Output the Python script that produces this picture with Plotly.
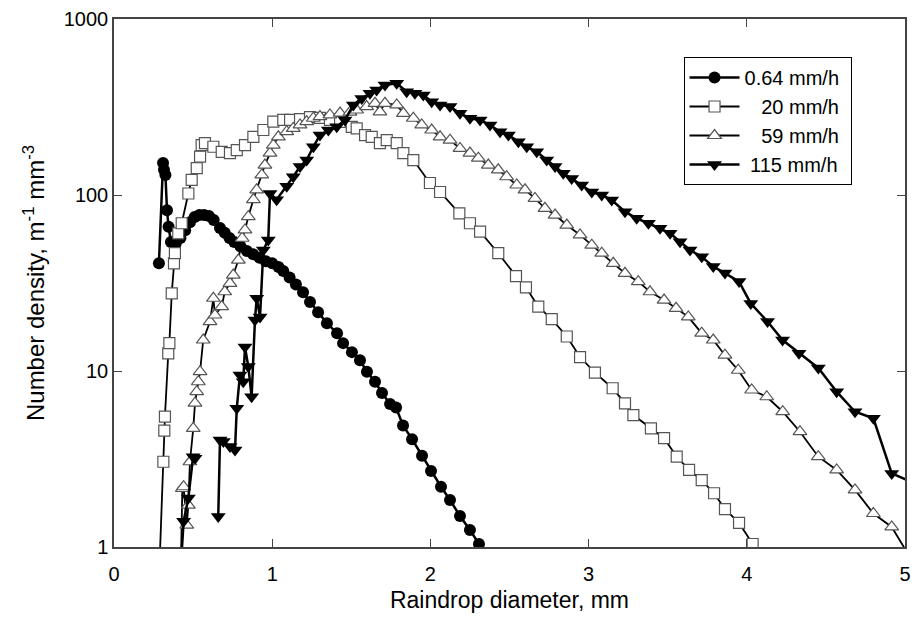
import plotly.graph_objects as go

# ---- data ----
d064 = [0.284, 0.310, 0.316, 0.325, 0.335, 0.345, 0.36, 0.39, 0.42, 0.45, 0.48, 0.51, 0.54, 0.57,
        0.60, 0.63, 0.67, 0.70, 0.73, 0.76, 0.80, 0.84, 0.88, 0.92, 0.96, 1.00, 1.04, 1.07, 1.11,
        1.15, 1.195, 1.239, 1.290, 1.346, 1.410, 1.448, 1.504, 1.555, 1.599, 1.650, 1.694, 1.745,
        1.783, 1.827, 1.884, 1.947, 2.004, 2.067, 2.124, 2.187, 2.250, 2.307]
n064 = [41, 152, 139, 130, 82, 66, 54, 53, 57, 63, 70, 75, 77, 77,
        76, 72, 65, 61, 57, 54, 51, 48, 46, 44, 42, 41, 39, 37, 34,
        31, 28, 24.7, 21.6, 18.7, 16.4, 14.4, 12.8, 11.5, 9.9, 8.7, 7.5, 6.5,
        6.2, 4.9, 4.1, 3.3, 2.7, 2.2, 1.85, 1.5, 1.25, 1.04]

d20 = [0.29, 0.312, 0.318, 0.322, 0.343, 0.350, 0.365, 0.379, 0.385, 0.406, 0.428, 0.470, 0.491,
       0.523, 0.544, 0.554, 0.575, 0.628, 0.681, 0.733, 0.776, 0.828, 0.881, 0.944, 1.007, 1.070,
       1.113, 1.176, 1.239, 1.302, 1.365, 1.429, 1.503, 1.534, 1.587, 1.629, 1.681, 1.724, 1.787,
       1.829, 1.892, 1.997, 2.061, 2.183, 2.250, 2.314, 2.429, 2.541, 2.604, 2.682, 2.767, 2.862,
       2.946, 3.040, 3.152, 3.230, 3.283, 3.394, 3.477, 3.557, 3.635, 3.715, 3.793, 3.862, 3.951,
       4.037, 4.13]
n20 = [0.9, 3.05, 4.58, 5.5, 12.6, 14.4, 27.6, 40.9, 46.7, 60.6, 69.1, 102, 122,
       142, 165, 192, 197, 188, 176, 173, 180, 192, 214, 234, 261, 267,
       267, 270, 277, 274, 267, 260, 244, 239, 219, 214, 197, 205, 197,
       173, 158, 117, 104, 78.7, 69.1, 61.9, 46.7, 34.6, 29.9, 23.2, 19.7, 15.7,
       12.0, 9.78, 7.98, 6.55, 5.62, 4.72, 4.15, 3.26, 2.74, 2.40, 2.02, 1.64, 1.37,
       1.04, 0.9]

d59 = [0.424, 0.432, 0.44, 0.46, 0.47, 0.48, 0.501, 0.512, 0.523, 0.533, 0.544, 0.564, 0.607,
       0.628, 0.638, 0.681, 0.70, 0.733, 0.754, 0.786, 0.81, 0.828, 0.849, 0.881, 0.902, 0.934,
       0.954, 0.986, 1.007, 1.039, 1.092, 1.133, 1.176, 1.218, 1.260, 1.302, 1.365, 1.429, 1.492,
       1.534, 1.597, 1.650, 1.681, 1.713, 1.787, 1.829, 1.892, 1.945, 2.008, 2.061, 2.124, 2.187,
       2.250, 2.303, 2.366, 2.429, 2.482, 2.546, 2.598, 2.661, 2.724, 2.788, 2.862, 2.946, 3.020,
       3.083, 3.156, 3.230, 3.314, 3.388, 3.477, 3.553, 3.630, 3.715, 3.788, 3.862, 3.946, 4.031,
       4.126, 4.227, 4.336, 4.452, 4.568, 4.684, 4.800, 4.916, 5.04]
n59 = [0.9, 2.15, 2.2, 1.33, 1.73, 3.05, 4.72, 6.56, 7.63, 8.69, 9.91, 15.0, 19.1,
       25.9, 20.8, 23.2, 28.2, 31.5, 35.1, 42.7, 56.8, 63.3, 75.3, 94.2, 107, 130,
       148, 173, 192, 214, 229, 239, 250, 261, 273, 279, 285, 292, 296,
       304, 318, 332, 297, 332, 325, 291, 273, 250, 234, 214, 205, 184,
       173, 162, 148, 139, 127, 114, 107, 95.7, 84.0, 76.9, 67.5, 59.3, 51.9,
       46.7, 40.9, 35.9, 32.2, 28.2, 25.3, 22.7, 20.3, 16.4, 15.0, 12.3, 10.1, 7.80,
       7.14, 5.87, 4.52, 3.26, 2.74, 2.11, 1.55, 1.30, 0.85]

d115 = [0.427, 0.44, 0.47, 0.50, 0.512, None, 0.659, 0.670, 0.691, 0.733, 0.765, 0.776, 0.796,
        0.817, 0.828, 0.849, 0.870, 0.891, 0.902, 0.923, 0.944, 0.975, 0.986, 1.028, 1.092,
        1.133, 1.176, 1.218, 1.260, 1.302, 1.355, 1.408, 1.460, 1.513, 1.566, 1.618, 1.660,
        1.713, 1.787, 1.850, 1.902, 1.955, 2.008, 2.061, 2.124, 2.187, 2.250, 2.314, 2.377,
        2.440, 2.493, 2.556, 2.609, 2.672, 2.735, 2.788, 2.840, 2.893, 2.956, 3.020, 3.083,
        3.146, 3.230, 3.304, 3.378, 3.451, 3.515, 3.578, 3.641, 3.715, 3.788, 3.862, 3.951,
        4.025, 4.131, 4.226, 4.330, 4.452, 4.568, 4.684, 4.800, 4.916, 5.06]
n115 = [0.9, 1.4, 1.9, 3.26, 3.19, None, 1.49, 4.05, 3.97, 3.72, 3.56, 6.14, 9.49,
        8.69, 13.7, 10.6, 7.14, 19.5, 25.9, 20.3, 48.7, 55.5, 102, 94, 112,
        127, 145, 158, 188, 219, 234, 244, 267, 325, 354, 378, 395,
        422, 431, 386, 378, 370, 339, 325, 318, 291, 273, 267, 250,
        229, 219, 201, 188, 176, 158, 145, 133, 124, 114, 104, 100,
        93.7, 80.4, 73.7, 69.1, 64.7, 60.6, 54.3, 48.7, 44.6, 39.2, 36.0, 32.2,
        24.2, 19.1, 15.0, 12.6, 10.4, 7.63, 5.87, 5.39, 2.62, 2.30]

names = ["0.64 mm/h\u00a0", "\u00a0\u00a0\u00a020 mm/h\u00a0",
         "\u00a0\u00a0\u00a059 mm/h\u00a0", "\u00a0115 mm/h\u00a0"]
xticks = [0, 1, 2, 3, 4, 5]
yticks = [1, 10, 100, 1000]

FONT = "Arial, Liberation Sans, sans-serif"

fig = go.Figure()
fig.add_trace(go.Scatter(
    x=d064, y=n064, name=names[0], mode="lines+markers",
    line=dict(color="black", width=2.5),
    marker=dict(symbol="circle", size=12, color="black", line=dict(width=0))))
fig.add_trace(go.Scatter(
    x=d20, y=n20, name=names[1], mode="lines+markers",
    line=dict(color="black", width=1.8),
    marker=dict(symbol="square", size=11, color="white", line=dict(color="#555", width=1.2))))
fig.add_trace(go.Scatter(
    x=d59, y=n59, name=names[2], mode="lines+markers",
    line=dict(color="black", width=1.8),
    marker=dict(symbol="triangle-up", size=12, color="white", line=dict(color="#555", width=1.2))))
fig.add_trace(go.Scatter(
    x=d115, y=n115, name=names[3], mode="lines+markers", connectgaps=False,
    line=dict(color="black", width=2.5),
    marker=dict(symbol="triangle-down", size=13, color="black", line=dict(width=0))))

axis_common = dict(
    showline=True, linecolor="#444", linewidth=1.5, mirror="ticks",
    ticks="inside", ticklen=8, tickwidth=1, tickcolor="#444",
    showgrid=False, zeroline=False,
    tickfont=dict(family=FONT, size=20, color="black"),
)

fig.update_xaxes(
    range=[0, 5], tickvals=xticks, ticktext=[str(v) for v in xticks],
    ticklabelstandoff=8, ticklabeloverflow="allow",
    title=dict(text="Raindrop diameter, mm", font=dict(family=FONT, size=23, color="black"), standoff=8),
    **axis_common)
fig.update_yaxes(
    type="log", range=[0, 3], tickvals=yticks, ticktext=[str(v) for v in yticks],
    title=dict(text="Number density, m<sup>-1</sup> mm<sup>-3</sup>",
               font=dict(family=FONT, size=24, color="black"), standoff=12),
    **axis_common)

fig.update_layout(
    width=912, height=621,
    margin=dict(l=114, r=7, t=19, b=74, autoexpand=False),
    plot_bgcolor="white", paper_bgcolor="white",
    font=dict(family=FONT, size=20, color="black"),
    legend=dict(x=0.72, y=0.928, xanchor="left", yanchor="top",
                bgcolor="white", bordercolor="black", borderwidth=1,
                font=dict(family=FONT, size=20, color="black"),
                tracegroupgap=0, itemwidth=50),
    showlegend=True,
)

# remove the default page margin so the 912x621 figure fills the window exactly
fig.write_html("out.html",
               config={"displayModeBar": False},
               post_script="document.body.style.margin='0px';document.body.style.overflow='hidden';")
